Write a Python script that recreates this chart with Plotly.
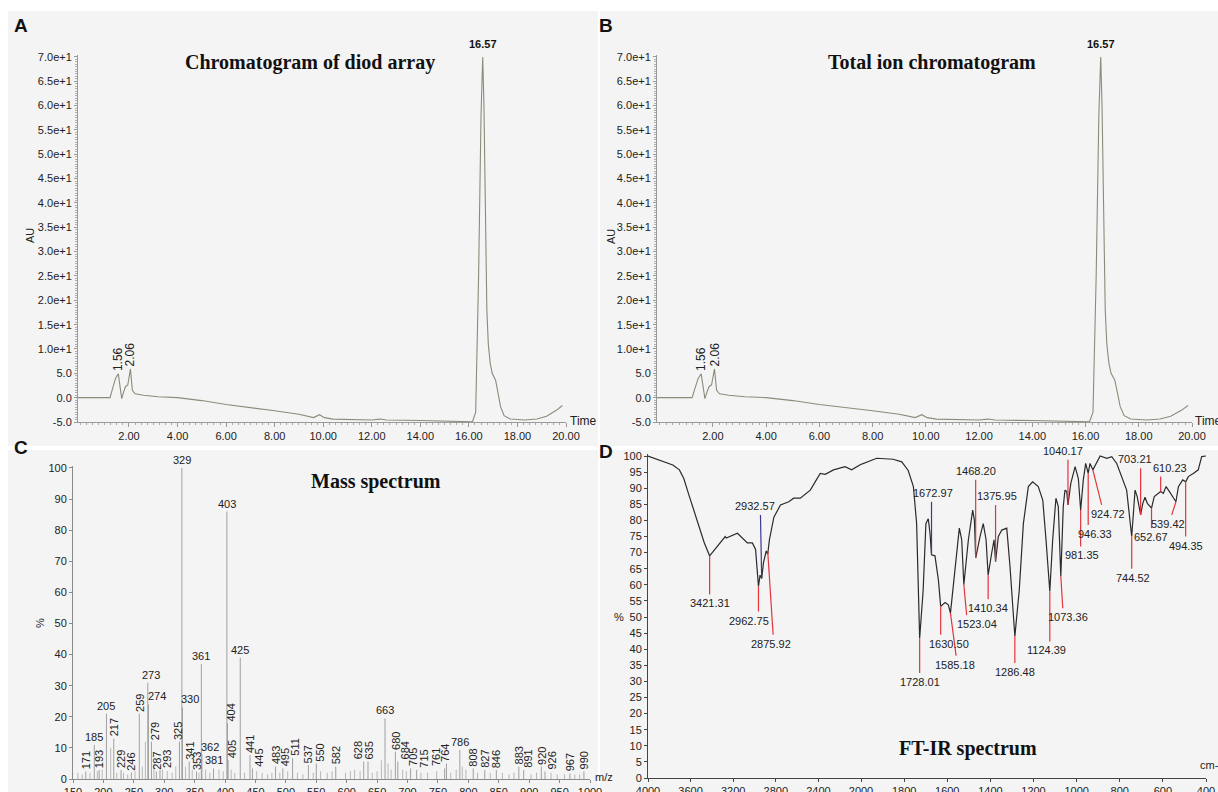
import plotly.graph_objects as go

W, H = 1218, 792

# ---------------- DATA ----------------
# Chromatograms (A: diode array, B: total ion) - retention time (min) vs AU
chrom_time = [-0.1, 1.22, 1.32, 1.45, 1.56, 1.62, 1.70, 1.78, 1.86, 1.95,
              2.06, 2.14, 2.25, 2.6, 3.2, 4.0, 5.0, 6.0, 7.0, 8.0,
              9.0, 9.6, 9.85, 10.05, 10.4, 11.0, 12.0, 12.35, 12.6, 14.0,
              15.0, 16.15, 16.28, 16.4, 16.5, 16.57, 16.62, 16.68, 16.74, 16.8,
              16.88, 16.96, 17.04, 17.1, 17.2, 17.3, 17.45, 17.7, 18.3, 18.8,
              19.2, 19.6, 19.85]
chrom_au = [0.0, 0.0, 1.8, 4.0, 4.9, 2.5, -0.2, 1.2, 2.3, 2.6,
            5.9, 1.5, 0.8, 0.5, 0.2, 0.0, -0.6, -1.4, -2.0, -2.7,
            -3.4, -4.1, -3.5, -4.1, -4.4, -4.5, -4.6, -4.4, -4.6, -4.7,
            -4.8, -4.95, -3.0, 25.0, 58.0, 70.0, 60.0, 38.0, 18.0, 11.0,
            7.0, 5.0, 4.2, 3.6, 1.0, -1.8, -3.7, -4.4, -4.6, -4.4,
            -3.8, -2.6, -1.6]
chrom_peak_times = [1.56, 2.06, 16.57]
chrom_peak_labels = ["1.56", "2.06", "16.57"]

chrom_ytick_vals = [-5, 0, 5, 10, 15, 20, 25, 30, 35, 40, 45, 50, 55, 60, 65, 70]
chrom_xtick_vals = [2, 4, 6, 8, 10, 12, 14, 16, 18, 20]

# Mass spectrum - labelled peaks (m/z, relative intensity %)
ms_mz = [171, 185, 193, 205, 217, 229, 246, 259, 273, 274,
         279, 287, 293, 325, 329, 330, 341, 353, 361, 362,
         381, 403, 404, 405, 425, 441, 445, 483, 495, 511,
         537, 550, 582, 628, 635, 663, 680, 684, 705, 715,
         761, 764, 786, 808, 827, 846, 883, 891, 920, 926,
         967, 990]
ms_int = [2.4, 11.0, 2.9, 21.0, 13.0, 2.9, 2.1, 21.0, 31.0, 24.0,
          12.0, 2.4, 2.9, 12.0, 100.0, 23.0, 5.6, 2.4, 37.0, 7.7,
          3.4, 86.0, 18.0, 6.1, 39.0, 7.7, 3.4, 4.0, 3.4, 6.7,
          4.5, 5.0, 4.0, 5.6, 5.6, 19.5, 8.8, 5.6, 3.4, 2.9,
          3.4, 5.0, 9.3, 3.4, 2.9, 2.9, 4.0, 2.9, 4.0, 2.4,
          1.8, 2.4]
# Mass spectrum - unlabelled minor peaks
ms_minor_mz = [158, 165, 178, 190, 198, 212, 222, 233, 240, 252,
               264, 269, 283, 297, 305, 313, 319, 335, 346, 357,
               368, 375, 390, 397, 410, 416, 432, 452, 461, 470,
               477, 490, 503, 519, 528, 545, 557, 568, 576, 598,
               606, 613, 622, 642, 650, 657, 668, 673, 692, 698,
               722, 733, 748, 771, 780, 790, 796, 815, 836, 856,
               867, 875, 903, 912, 936, 946, 958, 975, 983]
ms_minor_int = [2, 1.5, 2, 2.5, 3, 10, 2, 2, 1.5, 2.5,
                4, 12, 5, 3, 2.5, 2, 4, 4, 3, 2,
                3, 2, 3, 2.5, 3, 2, 2, 2.5, 2, 1.5,
                2, 2, 2.5, 2, 1.5, 2, 2.5, 2, 2.5, 2,
                2.5, 3, 2.5, 2, 2.5, 6, 5, 3, 3, 2.5,
                2, 2, 2.5, 2, 3, 4, 3, 2, 2, 2,
                1.5, 2, 1.5, 2, 2, 1.5, 1.5, 1.5, 1.5]

# FT-IR spectrum - wavenumber (cm-1) vs transmittance (%)
ir_wn = [4000, 3891, 3767, 3705, 3664, 3611, 3533, 3471, 3421.31, 3347,
         3290, 3275, 3265, 3160, 3067, 3020, 2990, 2975, 2962.75, 2948,
         2932.57, 2915, 2890, 2875.92, 2860, 2818, 2756, 2678, 2632, 2570,
         2476, 2383, 2336, 2258, 2150, 2088, 2000, 1927, 1851, 1811,
         1781, 1757, 1742, 1728.01, 1712, 1699, 1688, 1680, 1672.97, 1657,
         1641, 1630.50, 1610, 1595, 1585.18, 1564, 1544, 1533, 1523.04, 1502,
         1482, 1474, 1468.20, 1448, 1433, 1420, 1410.34, 1394, 1383, 1375.95,
         1363, 1347, 1324, 1309, 1286.48, 1266, 1247, 1224, 1204, 1178,
         1157, 1142, 1124.39, 1111, 1096, 1085, 1073.36, 1062, 1054, 1046,
         1040.17, 1027, 1007, 992, 981.35, 969, 958, 946.33, 938, 924.72,
         907, 891, 860, 837, 814, 791, 768, 744.52, 735, 729,
         719, 703.21, 693, 683, 672, 652.67, 640, 620, 610.23, 598,
         585, 574, 559, 539.42, 528, 508, 494.35, 482, 459, 436,
         420, 400]
ir_T = [100, 98.8, 97.2, 95.7, 93.0, 87.4, 79.0, 73.0, 69.0, 72.0,
        74.2, 75.0, 74.5, 76.0, 73.0, 73.0, 71.0, 63.0, 59.5, 63.0,
        62.0, 67.0, 70.5, 69.5, 74.0, 81.0, 84.8, 85.8, 86.9, 86.9,
        89.4, 94.6, 94.3, 95.7, 96.7, 95.7, 97.4, 99.3, 99.0, 98.2,
        95.5, 90.5, 79.0, 43.4, 58.0, 79.0, 80.5, 76.0, 69.3, 69.0,
        61.5, 53.3, 54.5, 53.8, 51.2, 65.7, 77.6, 74.0, 60.0, 74.0,
        83.2, 80.0, 68.3, 75.0, 79.0, 74.0, 63.0, 69.8, 74.0, 67.2,
        75.0, 77.0, 77.6, 65.7, 44.0, 58.4, 79.0, 90.5, 92.0, 90.5,
        86.3, 74.0, 58.0, 74.0, 86.9, 84.3, 62.6, 84.3, 89.4, 89.0,
        84.8, 91.5, 96.7, 93.0, 83.2, 92.6, 97.7, 94.6, 97.7, 95.7,
        98.2, 100, 99.3, 99.8, 97.7, 93.6, 89.4, 75.0, 84.3, 89.4,
        87.4, 81.7, 85.3, 87.2, 85.3, 83.8, 87.4, 88.4, 89.0, 88.4,
        90.5, 89.4, 87.9, 85.8, 90.5, 92.6, 92.0, 93.6, 94.6, 95.7,
        99.8, 100]

ir_peak_labels = ["3421.31", "2962.75", "2932.57", "2875.92", "1728.01", "1672.97",
                  "1630.50", "1585.18", "1523.04", "1468.20", "1410.34", "1375.95",
                  "1286.48", "1124.39", "1073.36", "1040.17", "981.35", "946.33",
                  "924.72", "744.52", "703.21", "652.67", "610.23", "539.42", "494.35"]
ir_peak_T = [69.0, 59.5, 62.0, 70.5, 43.4, 69.3, 53.3, 51.2, 60.0, 68.3, 63.0, 67.2,
             44.0, 58.0, 62.6, 84.8, 83.2, 94.6, 95.7, 75.0, 81.7, 83.8, 89.0, 85.8, 92.0]

# ---------------- LAYOUT HELPERS ----------------
SANS = "Liberation Sans, Arial, Helvetica, sans-serif"
SERIF = "Liberation Serif, Times New Roman, serif"
BG = "#f4f4f4"
CHROM_COL = "#8b8b7a"
RED = "#e3343c"
BLUE = "#3a3a92"


def PX(x):
    return x / W


def PY(y):
    return 1 - y / H


fig = go.Figure()

# --- Panels A and B: chromatograms ---
for xa, ya in (("x", "y"), ("x2", "y2")):
    fig.add_trace(go.Scatter(x=chrom_time, y=chrom_au, xaxis=xa, yaxis=ya, mode="lines",
                             line=dict(color=CHROM_COL, width=1.1), hoverinfo="skip"))

# --- Panel C: mass spectrum sticks ---
sx, sy = [], []
for m, v in zip(ms_minor_mz, ms_minor_int):
    sx += [m, m, None]
    sy += [0, v, None]
fig.add_trace(go.Scatter(x=sx, y=sy, xaxis="x3", yaxis="y3", mode="lines",
                         line=dict(color="#b8b8b8", width=1), hoverinfo="skip"))
sx, sy = [], []
for m, v in zip(ms_mz, ms_int):
    sx += [m, m, None]
    sy += [0, v, None]
fig.add_trace(go.Scatter(x=sx, y=sy, xaxis="x3", yaxis="y3", mode="lines",
                         line=dict(color="#a0a0a0", width=1), hoverinfo="skip"))

# --- Panel D: FT-IR (two linear segments: 4000-2000 and 2000-400) ---
lw = [w for w in ir_wn if w >= 2000]
lt = [t for w, t in zip(ir_wn, ir_T) if w >= 2000]
rw = [w for w in ir_wn if w <= 2000]
rt = [t for w, t in zip(ir_wn, ir_T) if w <= 2000]
fig.add_trace(go.Scatter(x=lw, y=lt, xaxis="x4", yaxis="y4", mode="lines",
                         line=dict(color="#2b2b2b", width=1.2), hoverinfo="skip"))
fig.add_trace(go.Scatter(x=rw, y=rt, xaxis="x5", yaxis="y4", mode="lines",
                         line=dict(color="#2b2b2b", width=1.2), hoverinfo="skip"))

annotations = []
shapes = []

# Panel backgrounds
for x0, y0, x1, y1 in ((8, 11, 598, 446), (600, 11, 1218, 446),
                       (8, 450, 598, 792), (600, 450, 1218, 792)):
    shapes.append(dict(type="rect", xref="paper", yref="paper", layer="below",
                       x0=PX(x0), x1=PX(x1), y0=PY(y1), y1=PY(y0),
                       fillcolor=BG, line=dict(width=0)))


def paper_text(txt, x, y, size=12, family=SANS, xanchor="center", angle=0, color="#222"):
    annotations.append(dict(text=txt, x=PX(x), y=PY(y), xref="paper", yref="paper",
                            showarrow=False, xanchor=xanchor, yanchor="middle",
                            textangle=angle, font=dict(family=family, size=size, color=color)))


# Panel letters
for txt, x, y in (("A", 21, 25), ("B", 606, 25), ("C", 21, 447), ("D", 606, 451)):
    paper_text("<b>%s</b>" % txt, x, y, size=19, color="#111")

# Titles
for txt, x, y in (("Chromatogram of diod array", 310, 62), ("Total ion chromatogram", 932, 62),
                  ("Mass spectrum", 376, 481), ("FT-IR spectrum", 968, 748)):
    paper_text("<b>%s</b>" % txt, x, y, size=20, family=SERIF, color="#111")

# Axis titles
paper_text("AU", 30, 236, size=11, angle=-90)
paper_text("AU", 611, 237, size=11, angle=-90)
paper_text("%", 40, 623, size=11, angle=-90)
paper_text("%", 619, 617, size=11)
paper_text("Time", 568, 421, size=12, xanchor="left")
paper_text("Time", 1193, 421, size=12, xanchor="left")
paper_text("m/z", 593, 777, size=11, xanchor="left")
paper_text("cm-1", 1198, 765, size=11, xanchor="left")

# Chromatogram peak labels
for xa, ya in (("x", "y"), ("x2", "y2")):
    for t, lab in zip(chrom_peak_times, chrom_peak_labels):
        v = chrom_au[chrom_time.index(t)]
        if lab == "16.57":
            annotations.append(dict(text="<b>%s</b>" % lab, x=t, y=v, xref=xa, yref=ya,
                                    showarrow=False, xanchor="center", yanchor="bottom", yshift=5,
                                    font=dict(family=SANS, size=11, color="#111")))
        else:
            annotations.append(dict(text=lab, x=t, y=v, xref=xa, yref=ya, textangle=-90,
                                    showarrow=False, xanchor="center", yanchor="bottom", yshift=1,
                                    font=dict(family=SANS, size=12, color="#222")))

# Mass spectrum labels: horizontal ones and their x offsets (px)
ms_horizontal_shift = {185: 0, 205: 0, 273: 3, 274: 9, 329: 0, 330: 8, 361: 0, 362: 8,
                       381: 0, 403: 0, 425: 0, 663: 0, 786: 0}
# rotated ones that are pushed sideways in the reference (px)
ms_rot_shift = {279: 3, 293: 7, 325: -2, 404: 4, 405: 4, 445: 7, 495: 3, 511: 3, 550: 4,
                628: -6, 635: 1, 684: 7, 705: 3, 715: 7, 761: -8, 764: -1, 891: 4, 926: 7}
for m, v in zip(ms_mz, ms_int):
    if m in ms_horizontal_shift:
        annotations.append(dict(text=str(m), x=m, y=v, xref="x3", yref="y3", showarrow=False,
                                xanchor="center", yanchor="bottom",
                                xshift=ms_horizontal_shift[m], yshift=0,
                                font=dict(family=SANS, size=11, color="#222")))
    else:
        annotations.append(dict(text=str(m), x=m, y=v, xref="x3", yref="y3", showarrow=False,
                                textangle=-90, xanchor="center", yanchor="bottom",
                                xshift=ms_rot_shift.get(m, 0), yshift=0,
                                font=dict(family=SANS, size=11, color="#222")))

# FT-IR peak marker placement: label -> (line end wn, line end T, label wn, side)
ir_label_place = {
    "3421.31": (3421.31, 57.0, 3421, "below"),
    "2962.75": (2962.75, 51.7, 3053, "below"),
    "2932.57": (2944, 81.7, 2991, "above"),
    "2875.92": (2825, 44.5, 2841, "below"),
    "1728.01": (1728.01, 32.6, 1728, "below"),
    "1672.97": (1672.97, 85.8, 1665, "above"),
    "1630.50": (1630.50, 44.5, 1590, "below"),
    "1585.18": (1559, 38.0, 1562, "below"),
    "1523.04": (1510, 50.6, 1463, "below"),
    "1468.20": (1468.20, 92.6, 1468, "above"),
    "1410.34": (1410.34, 55.5, 1410, "below"),
    "1375.95": (1375.95, 84.8, 1370, "above"),
    "1286.48": (1286.48, 35.7, 1286, "below"),
    "1124.39": (1124.39, 42.4, 1139, "below"),
    "1073.36": (1064, 52.7, 1038, "below"),
    "1040.17": (1040.17, 98.8, 1063, "above"),
    "981.35": (981.35, 71.9, 975, "below"),
    "946.33": (946.33, 78.6, 915, "below"),
    "924.72": (884, 84.8, 853, "below"),
    "744.52": (744.52, 65.0, 740, "below"),
    "703.21": (703.21, 96.2, 729, "above"),
    "652.67": (652.67, 77.6, 656, "below"),
    "610.23": (610.23, 93.6, 567, "above"),
    "539.42": (559, 81.7, 578, "below"),
    "494.35": (494.35, 75.0, 494, "below"),
}
blue_peaks = {"2932.57", "1672.97"}
for lab, tip in zip(ir_peak_labels, ir_peak_T):
    wn = float(lab)
    ew, et, lx, side = ir_label_place[lab]
    xr = "x4" if wn >= 2000 else "x5"
    shapes.append(dict(type="line", xref=xr, yref="y4", x0=wn, y0=tip, x1=ew, y1=et,
                       line=dict(color=BLUE if lab in blue_peaks else RED, width=1.2)))
    annotations.append(dict(text=lab, x=lx, y=et, xref=xr, yref="y4", showarrow=False,
                            xanchor="center",
                            yanchor="top" if side == "below" else "bottom",
                            yshift=-1 if side == "below" else 1,
                            font=dict(family=SANS, size=11, color="#222")))

# ---------------- AXES ----------------
tickfont = dict(family=SANS, size=11, color="#222")
chrom_yticktext = [("%.1f" % v) if abs(v) < 10 else ("%.1fe+1" % (v / 10.0)) for v in chrom_ytick_vals]
chrom_xticktext = ["%.2f" % v for v in chrom_xtick_vals]

base_axis = dict(showgrid=False, zeroline=False, showline=True, automargin=False,
                 ticks="outside", tickfont=tickfont)
common_chrom_x = dict(range=[-0.1, 20.0], linecolor="#9a9a9a", linewidth=1, ticklen=4,
                      tickcolor="#9a9a9a", tickvals=chrom_xtick_vals, ticktext=chrom_xticktext,
                      minor=dict(dtick=0.25, ticks="outside", ticklen=2, tickcolor="#aaaaaa"),
                      **base_axis)
common_chrom_y = dict(range=[-5, 70.4], linecolor="#9a9a9a", linewidth=1, ticklen=3,
                      tickcolor="#9a9a9a", tickvals=chrom_ytick_vals, ticktext=chrom_yticktext,
                      minor=dict(dtick=0.5, ticks="outside", ticklen=2, tickcolor="#b0b0b0"),
                      **base_axis)

chrom_ydom = [PY(422), PY(55)]
fig.update_layout(
    xaxis=dict(domain=[PX(78), PX(566)], anchor="y", **common_chrom_x),
    yaxis=dict(domain=chrom_ydom, anchor="x", **common_chrom_y),
    xaxis2=dict(domain=[PX(657), PX(1192)], anchor="y2", **common_chrom_x),
    yaxis2=dict(domain=chrom_ydom, anchor="x2", **common_chrom_y),
    xaxis3=dict(domain=[PX(73), PX(590)], anchor="y3", range=[150, 1000], linecolor="#8a8a8a",
                ticklen=3, tickcolor="#8a8a8a", tickvals=list(range(150, 1001, 50)), **base_axis),
    yaxis3=dict(domain=[PY(779), PY(466.4)], anchor="x3", range=[0, 100.5], linecolor="#8a8a8a",
                ticklen=3, tickcolor="#8a8a8a", tickvals=list(range(0, 101, 10)), **base_axis),
    xaxis4=dict(domain=[PX(648), PX(861)], anchor="y4", range=[4000, 2000], linecolor="#444",
                ticklen=3, tickcolor="#444", tickvals=[4000, 3600, 3200, 2800, 2400, 2000],
                **base_axis),
    xaxis5=dict(domain=[PX(861), PX(1206)], anchor="y4", range=[2000, 400], linecolor="#444",
                ticklen=3, tickcolor="#444", tickvals=[1800, 1600, 1400, 1200, 1000, 800, 600, 400],
                **base_axis),
    yaxis4=dict(domain=[PY(778), PY(454.4)], anchor="x4", range=[0, 100.5], linecolor="#444",
                ticklen=3, tickcolor="#444", tickvals=list(range(0, 101, 5)), **base_axis),
    width=W, height=H, margin=dict(l=0, r=0, t=0, b=0, pad=0, autoexpand=False),
    paper_bgcolor="white", plot_bgcolor="rgba(0,0,0,0)", showlegend=False,
    annotations=annotations, shapes=shapes,
)

fig.write_html("out.html", config={"displayModeBar": False},
               post_script="document.body.style.margin='0px';document.body.style.overflow='hidden';")
